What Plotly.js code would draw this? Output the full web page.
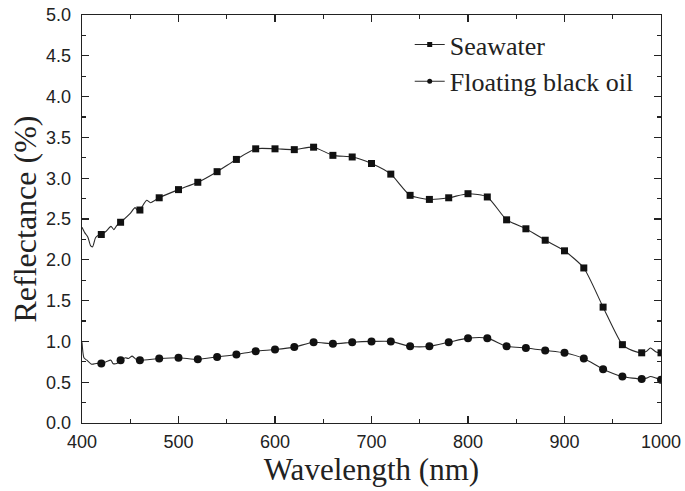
<!DOCTYPE html>
<html>
<head>
<meta charset="utf-8">
<script src="https://cdn.plot.ly/plotly-3.0.1.min.js"></script>
<style>html,body{margin:0;padding:0;background:#fff}#chart{width:685px;height:491px}</style>
</head>
<body>
<div id="chart"></div>
<script>
// Marker positions (every 20 nm)
const markerWavelength = [420,440,460,480,500,520,540,560,580,600,620,640,660,680,700,720,740,760,780,800,820,840,860,880,900,920,940,960,980,1000];
const seawaterMarkers = [2.31,2.46,2.61,2.76,2.86,2.95,3.08,3.23,3.36,3.36,3.35,3.38,3.28,3.26,3.18,3.05,2.79,2.74,2.76,2.81,2.77,2.49,2.38,2.24,2.11,1.90,1.42,0.96,0.86,0.86];
const oilMarkers = [0.73,0.77,0.77,0.79,0.80,0.78,0.81,0.84,0.88,0.90,0.93,0.99,0.97,0.99,1.00,1.00,0.94,0.94,0.99,1.04,1.04,0.94,0.92,0.89,0.86,0.79,0.66,0.57,0.54,0.53];

// Continuous spectra (including the noisy start and end)
const seawaterLineWl = [400,403,406,409,411,414,417,420,425,430,433,436,440,450,455,458,460,467,471,480,500,520,540,560,580,600,620,640,660,680,700,720,740,760,780,800,820,840,860,880,900,920,940,960,970,980,985,989,995,1000];
const seawaterLine = [2.40,2.33,2.28,2.17,2.16,2.27,2.30,2.31,2.35,2.41,2.37,2.42,2.46,2.57,2.64,2.60,2.61,2.73,2.70,2.76,2.86,2.95,3.08,3.23,3.36,3.36,3.35,3.38,3.28,3.26,3.18,3.05,2.79,2.74,2.76,2.81,2.77,2.49,2.38,2.24,2.11,1.90,1.42,0.96,0.89,0.86,0.88,0.92,0.87,0.86];
const oilLineWl = [400,402,405,410,415,420,425,430,432,436,440,445,448,452,456,460,480,500,520,540,560,580,600,620,640,660,680,700,720,740,760,780,800,820,840,860,880,900,920,940,960,980,985,989,995,1000];
const oilLine = [0.99,0.80,0.77,0.72,0.73,0.73,0.75,0.77,0.73,0.73,0.77,0.80,0.79,0.82,0.78,0.77,0.79,0.80,0.78,0.81,0.84,0.88,0.90,0.93,0.99,0.97,0.99,1.00,1.00,0.94,0.94,0.99,1.04,1.04,0.94,0.92,0.89,0.86,0.79,0.66,0.57,0.54,0.55,0.57,0.55,0.53];

const seriesNames = ["Seawater", "Floating black oil"];

const lineColor = "#2a2a2a";
const traces = [
  {x: seawaterLineWl, y: seawaterLine, mode: "lines", line: {color: lineColor, width: 1.1, shape: "spline", smoothing: 0.6}, showlegend: false, hoverinfo: "skip"},
  {x: oilLineWl, y: oilLine, mode: "lines", line: {color: lineColor, width: 1.1, shape: "spline", smoothing: 0.6}, showlegend: false, hoverinfo: "skip"},
  {x: markerWavelength, y: seawaterMarkers, mode: "markers", marker: {symbol: "square", size: 7, color: "#111"}, showlegend: false},
  {x: markerWavelength, y: oilMarkers, mode: "markers", marker: {symbol: "circle", size: 8, color: "#111"}, showlegend: false},
  {x: [null], y: [null], name: seriesNames[0], legendgroup: "a", mode: "lines+markers", line: {color: lineColor, width: 1.1}, marker: {symbol: "square", size: 5, color: "#111"}},
  {x: [null], y: [null], name: seriesNames[1], legendgroup: "b", mode: "lines+markers", line: {color: lineColor, width: 1.1}, marker: {symbol: "circle", size: 5, color: "#111"}}
];

const axisCommon = {
  showline: true, linecolor: "#222", linewidth: 1.3, mirror: "allticks",
  ticks: "inside", ticklen: 7, tickwidth: 1.1, tickcolor: "#222",
  showgrid: false, zeroline: false, automargin: false,
  tickfont: {family: "Liberation Sans, Arial, sans-serif", size: 18, color: "#222"}
};

const layout = {
  width: 685, height: 491,
  margin: {l: 82, r: 24, t: 15, b: 68},
  paper_bgcolor: "#fff", plot_bgcolor: "#fff",
  xaxis: Object.assign({}, axisCommon, {
    range: [400, 1000], dtick: 100, tick0: 0,
    minor: {dtick: 50, ticks: "inside", ticklen: 4, tickcolor: "#222", tickwidth: 1.1},
    ticklabelstandoff: 2,
    title: {text: "Wavelength (nm)", font: {family: "Liberation Serif, Times New Roman, serif", size: 31, color: "#222"}, standoff: 1}
  }),
  yaxis: Object.assign({}, axisCommon, {
    range: [0, 5], dtick: 0.5, tick0: 0, tickformat: ".1f",
    minor: {dtick: 0.25, ticks: "inside", ticklen: 4, tickcolor: "#222", tickwidth: 1.1},
    ticklabelstandoff: 6,
    title: {text: "Reflectance (%)", font: {family: "Liberation Serif, Times New Roman, serif", size: 32, color: "#222"}, standoff: 0}
  }),
  legend: {
    x: 0.566, y: 0.985, xanchor: "left", yanchor: "top",
    bgcolor: "rgba(0,0,0,0)", borderwidth: 0,
    font: {family: "Liberation Serif, Times New Roman, serif", size: 26, color: "#222"},
    traceorder: "grouped", tracegroupgap: 0
  },
  showlegend: true
};

Plotly.newPlot("chart", traces, layout, {displayModeBar: false, staticPlot: true});
</script>
</body>
</html>
